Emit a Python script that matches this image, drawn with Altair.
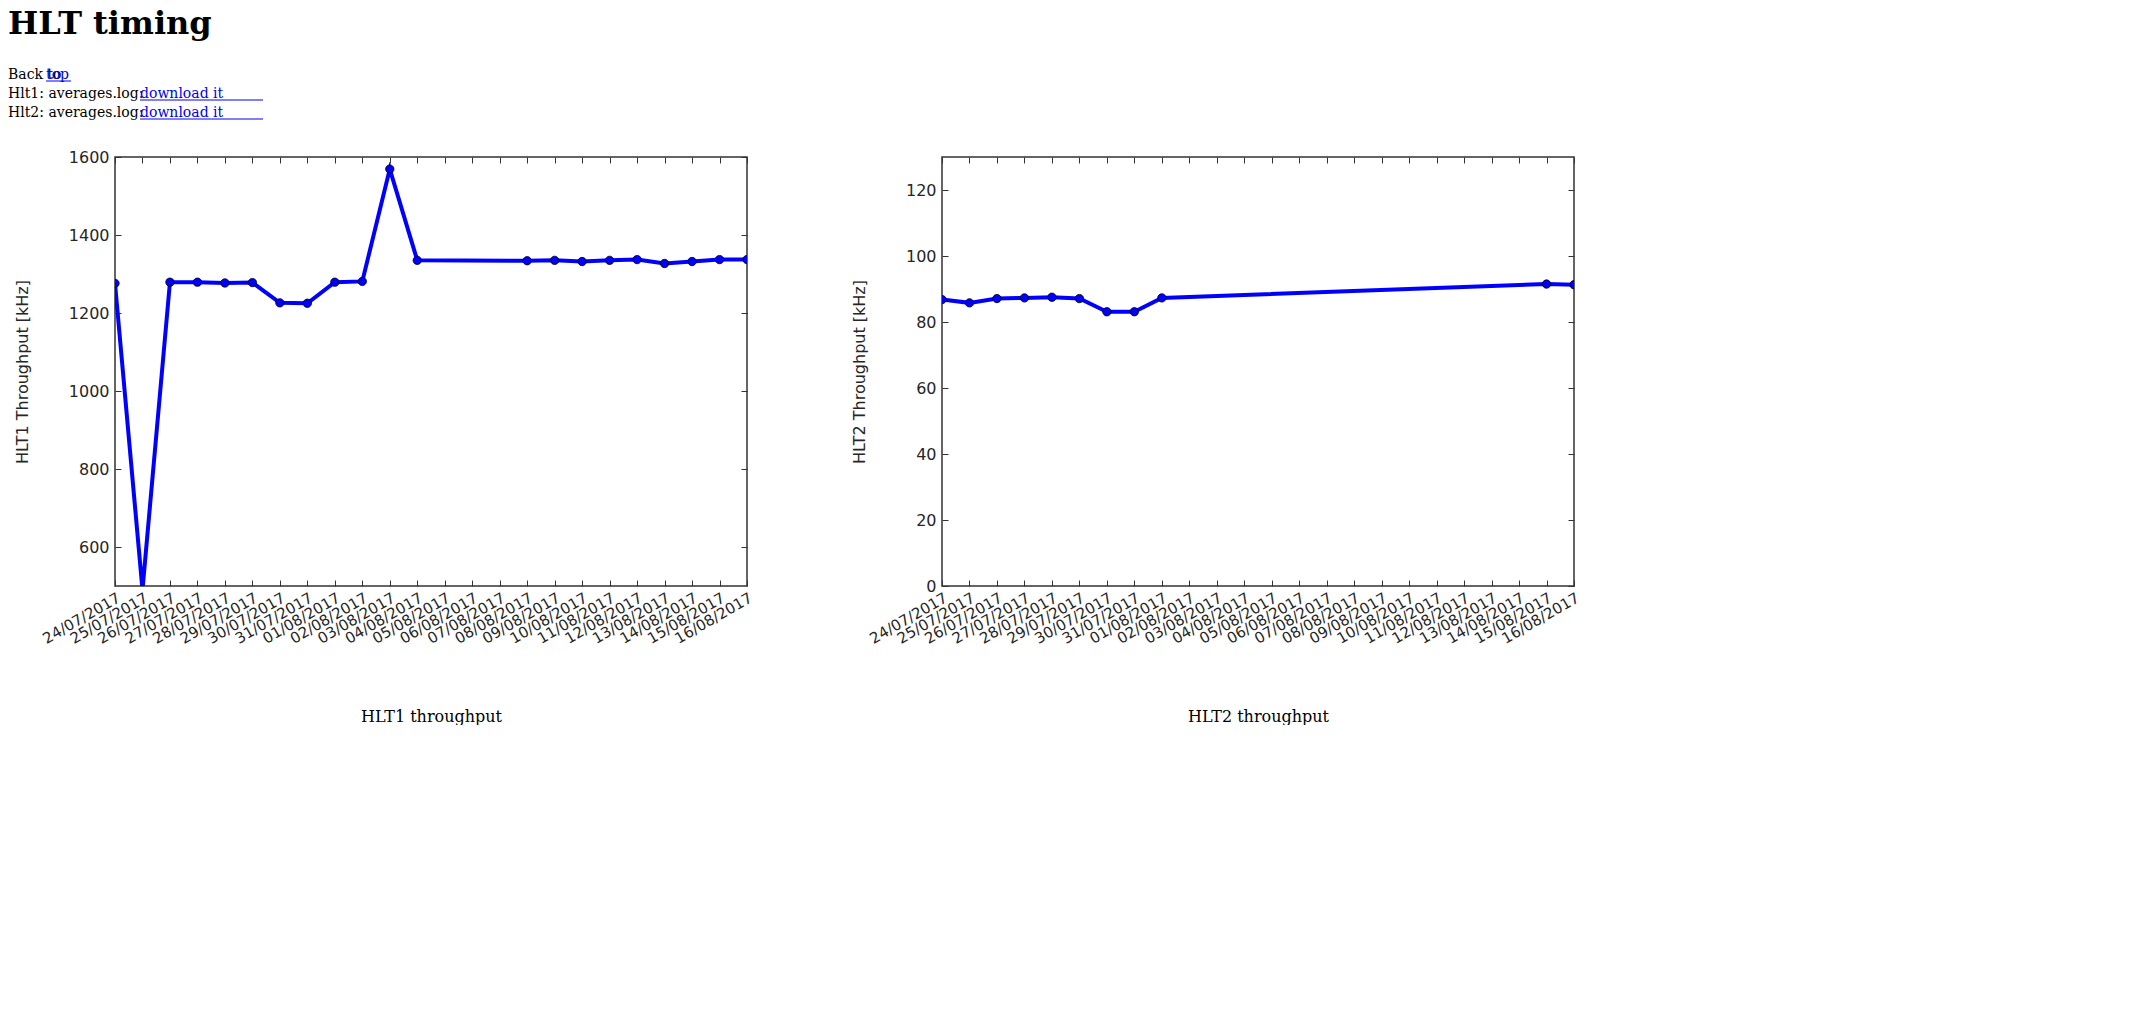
import altair as alt
import pandas as pd

date_labels = ["24/07/2017","25/07/2017","26/07/2017","27/07/2017","28/07/2017","29/07/2017",
               "30/07/2017","31/07/2017","01/08/2017","02/08/2017","03/08/2017","04/08/2017",
               "05/08/2017","06/08/2017","07/08/2017","08/08/2017","09/08/2017","10/08/2017",
               "11/08/2017","12/08/2017","13/08/2017","14/08/2017","15/08/2017","16/08/2017"]

hlt1_days = [0,1,2,3,4,5,6,7,8,9,10,11,15,16,17,18,19,20,21,22,23]
hlt1_vals = [1276,490,1279,1279,1277,1278,1226,1225,1279,1281,1569,1335,1334,1335,1332,1335,1337,1327,1332,1337,1337]

hlt2_days = [0,1,2,3,4,5,6,7,8,22,23]
hlt2_vals = [86.8,85.8,87.1,87.3,87.5,87.1,83.1,83.1,87.3,91.5,91.3]

label_expr = "[" + ",".join("'%s'" % d for d in date_labels) + "][datum.value]"
SANS = "DejaVu Sans"
SERIF = "DejaVu Serif"
W, H = 632, 429


def panel(days, vals, ydomain, yticks, ytitle, caption):
    df = pd.DataFrame({"day": days, "v": vals})
    x = alt.X("day:Q", scale=alt.Scale(domain=[0, 23], nice=False, zero=False),
              axis=alt.Axis(values=list(range(24)), labelExpr=label_expr, labelAngle=330,
                            labelAlign="right", labelBaseline="top", labelFont=SANS,
                            labelFontSize=15, labelColor="#262626", grid=False, domain=False,
                            labelOverlap=False, labelBound=False,
                            offset=-6, tickSize=6, tickColor="#333", labelPadding=4,
                            title=caption, titleFont=SERIF, titleFontSize=16,
                            titleFontWeight="normal", titleColor="black", titlePadding=62))
    y = alt.Y("v:Q", scale=alt.Scale(domain=ydomain, nice=False, zero=False),
              axis=alt.Axis(values=yticks, format="d", labelFont=SANS, labelFontSize=16,
                            labelColor="#262626", labelOverlap=False,
                            grid=False, domain=False, offset=-6, tickSize=6, tickColor="#333",
                            labelPadding=6, title=ytitle, titleFont=SANS, titleFontSize=16,
                            titleFontWeight="normal", titleColor="#262626", titlePadding=38))
    base = alt.Chart(df)
    line = base.mark_line(color="#0000ff", strokeWidth=4, clip=True).encode(x=x, y=y)
    pts = base.mark_point(filled=True, color="#0000ff", stroke="black", strokeWidth=0.8,
                          opacity=1, size=70, clip=True).encode(
        x=alt.X("day:Q", axis=None), y=alt.Y("v:Q", axis=None))
    x2 = alt.X("day:Q", axis=alt.Axis(orient="top", values=list(range(24)), labels=False,
                                      domain=False, grid=False, offset=-6, tickSize=6,
                                      tickColor="#333", title=None))
    y2 = alt.Y("v:Q", axis=alt.Axis(orient="right", values=yticks, labels=False, domain=False,
                                    grid=False, offset=-6, tickSize=6, tickColor="#333",
                                    title=None))
    ghost = base.mark_point(opacity=0).encode(x=x2, y=y2)
    return alt.layer(line, pts, ghost).resolve_axis(x="independent", y="independent").properties(
        width=W, height=H)


left = panel(hlt1_days, hlt1_vals, [500, 1600], [600, 800, 1000, 1200, 1400, 1600],
             "HLT1 Throughput [kHz]", "HLT1 throughput")
right = panel(hlt2_days, hlt2_vals, [0, 130], [0, 20, 40, 60, 80, 100, 120],
              "HLT2 Throughput [kHz]", "HLT2 throughput")

# header text
hdr = pd.DataFrame({"a": [0]})
hb = alt.Chart(hdr)
X0 = -107
def txt(s, x, y, size=14, weight="normal", color="black"):
    return hb.mark_text(text=s, align="left", baseline="alphabetic", font=SERIF, fontSize=size,
                        fontWeight=weight, color=color).encode(x=alt.value(X0 + x), y=alt.value(y))
def uline(x1, x2, y):
    return hb.mark_rule(color="#0000ee", strokeWidth=1).encode(
        x=alt.value(X0 + x1), x2=alt.value(X0 + x2), y=alt.value(y))

header = alt.layer(
    txt("HLT timing", 0, 22, size=32, weight="bold"),
    txt("Back to ", 0, 67),
    txt("top", 38, 67, color="#0000ee"), uline(38, 63, 69),
    txt("Hlt1: averages.log: ", 0, 86),
    txt("download it", 132, 86, color="#0000ee"), uline(132, 255, 88),
    txt("Hlt2: averages.log: ", 0, 105),
    txt("download it", 132, 105, color="#0000ee"), uline(132, 255, 107),
).properties(width=1400, height=116, view=alt.ViewBackground(stroke=None))

charts = alt.hconcat(left, right, spacing=94)
chart = alt.vconcat(header, charts, spacing=20).configure(padding=0).configure_view(
    stroke="#333", strokeWidth=1.5)

chart.save("out.html", embed_options={"renderer": "svg", "actions": False})
